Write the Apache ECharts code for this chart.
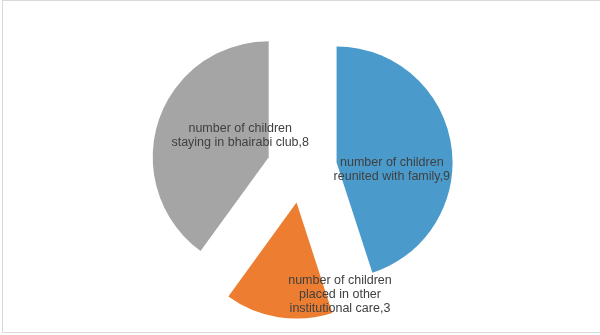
<!DOCTYPE html>
<html>
<head>
<meta charset="utf-8">
<script src="https://cdn.jsdelivr.net/npm/echarts@6/dist/echarts.min.js"></script>
<style>
html,body{margin:0;padding:0;background:#fff;}
#frame{position:absolute;left:2px;top:0;width:599px;height:333px;border-left:1px solid #d9d9d9;border-top:1px solid #d9d9d9;border-bottom:1px solid #d9d9d9;box-sizing:border-box;}
#chart{position:absolute;left:0;top:0;width:600px;height:335px;}
</style>
</head>
<body>
<div id="frame"></div>
<div id="chart"></div>
<script>
const categories = [
  'number of children\nreunited with family',
  'number of children\nplaced in other\ninstitutional care',
  'number of children\nstaying in bhairabi club'
];
const values = [9, 3, 8];
const colors = ['#4a9bcb', '#ed7d31', '#a5a5a5'];
const labelShift = [[-5, 17], [53, 31.5], [29.5, -3]];

const chart = echarts.init(document.getElementById('chart'), null, {renderer: 'canvas'});
chart.setOption({
  animation: false,
  series: [{
    type: 'pie',
    center: [302, 168],
    radius: [0, 116],
    startAngle: 90,
    clockwise: true,
    selectedMode: 'multiple',
    selectedOffset: 35,
    silent: true,
    avoidLabelOverlap: false,
    minShowLabelAngle: 0,
    label: {
      show: true,
      position: 'inside',
      color: '#404040',
      fontFamily: 'Liberation Sans, Arial, sans-serif',
      fontSize: 12.5,
      lineHeight: 14,
      align: 'center',
      overflow: 'none',
      formatter: p => p.name + ',' + p.value
    },
    labelLine: {show: false},
    labelLayout: p => ({dx: labelShift[p.dataIndex][0], dy: labelShift[p.dataIndex][1], hideOverlap: false}),
    emphasis: {disabled: true},
    data: categories.map((c, i) => ({
      name: c,
      value: values[i],
      selected: true,
      itemStyle: {color: colors[i]}
    }))
  }]
});
</script>
</body>
</html>
